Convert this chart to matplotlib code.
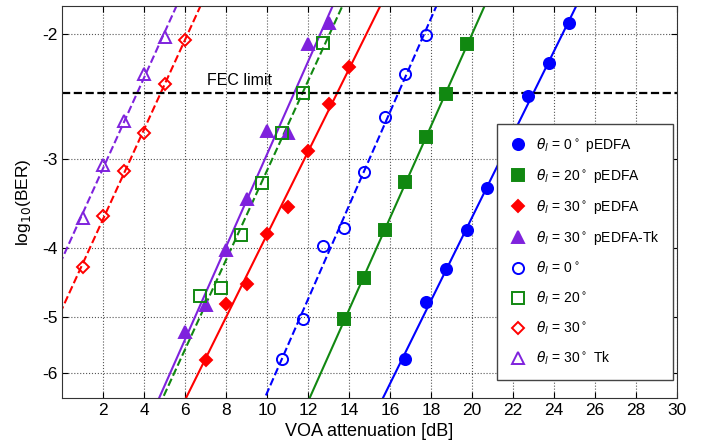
import numpy as np
import matplotlib
matplotlib.use('Agg')
import matplotlib.pyplot as plt

plt.rcParams['font.family'] = ['Liberation Sans', 'DejaVu Sans']

# data (x in dB, y = log10(BER))
x_0p = [16.75, 17.75, 18.75, 19.75, 20.75, 22.75, 23.75, 24.75]
y_0p = [-5.74, -4.77, -4.28, -3.77, -3.30, -2.45, -2.20, -1.93]

x_20p = [13.75, 14.75, 15.75, 16.75, 17.75, 18.75, 19.75]
y_20p = [-5.04, -4.41, -3.77, -3.23, -2.79, -2.43, -2.07]

x_30p = [7, 8, 9, 10, 11, 12, 13, 14]
y_30p = [-5.75, -4.79, -4.50, -3.82, -3.50, -2.92, -2.51, -2.23]

x_30tk = [6, 7, 8, 9, 10, 11, 12, 13]
y_30tk = [-5.25, -4.82, -4.03, -3.42, -2.74, -2.76, -2.07, -1.93]

x_0 = [10.75, 11.75, 12.75, 13.75, 14.75, 15.75, 16.75, 17.75]
y_0 = [-5.74, -5.03, -3.97, -3.75, -3.13, -2.62, -2.28, -2.01]

x_20 = [6.75, 7.75, 8.75, 9.75, 10.75, 11.75, 12.75]
y_20 = [-4.68, -4.55, -3.84, -3.24, -2.76, -2.42, -2.06]

x_30 = [1, 2, 3, 4, 5, 6]
y_30 = [-4.25, -3.61, -3.12, -2.76, -2.35, -2.04]

x_30t = [1, 2, 3, 4, 5]
y_30t = [-3.63, -3.06, -2.65, -2.28, -2.02]

fec = -2.42

blue = '#0000ff'
green = '#118811'
red = '#ff0000'
purple = '#7f22dd'


def fwd(v):
    v = np.asarray(v, dtype=float)
    return -np.log10(np.clip(-v, 1e-9, None))


def inv(u):
    return -10 ** (-np.asarray(u, dtype=float))


fig = plt.figure(figsize=(7.06, 4.45), dpi=100)
ax = fig.add_axes([0.088, 0.106, 0.871, 0.880])
ax.set_yscale('function', functions=(fwd, inv))

series = [
    (x_0p, y_0p, blue, 'o', True, '-', r'$\theta_l$ = 0$^\circ$ pEDFA'),
    (x_20p, y_20p, green, 's', True, '-', r'$\theta_l$ = 20$^\circ$ pEDFA'),
    (x_30p, y_30p, red, 'D', True, '-', r'$\theta_l$ = 30$^\circ$ pEDFA'),
    (x_30tk, y_30tk, purple, '^', True, '-', r'$\theta_l$ = 30$^\circ$ pEDFA-Tk'),
    (x_0, y_0, blue, 'o', False, '--', r'$\theta_l$ = 0$^\circ$'),
    (x_20, y_20, green, 's', False, '--', r'$\theta_l$ = 20$^\circ$'),
    (x_30, y_30, red, 'D', False, '--', r'$\theta_l$ = 30$^\circ$'),
    (x_30t, y_30t, purple, '^', False, '--', r'$\theta_l$ = 30$^\circ$ Tk'),
]

xl = np.linspace(-1, 31, 200)
handles = []
for xs, ys, c, m, filled, ls, lab in series:
    # straight fit line in the transformed axis
    p = np.polyfit(xs, fwd(ys), 1)
    ax.plot(xl, inv(np.polyval(p, xl)), ls=ls, color=c, lw=1.5, zorder=2)
    ms = 8 if m != 'D' else 6.5
    h, = ax.plot(xs, ys, ls='none', marker=m, ms=ms, color=c,
                 mfc=c if filled else 'none', mec=c, mew=1.4, label=lab, zorder=3)
    handles.append(h)

ax.axhline(fec, color='black', ls='--', lw=1.6, zorder=2)
ax.text(7.05, -2.33, 'FEC limit', fontsize=11.5, va='center', ha='left')

ax.set_xlim(0, 30)
ax.set_ylim(-6.5, -1.83)
ax.set_xticks(range(2, 31, 2))
ax.set_yticks([-6, -5, -4, -3, -2])
ax.set_yticklabels(['-6', '-5', '-4', '-3', '-2'])
ax.minorticks_off()
ax.tick_params(direction='in', top=True, right=True, labelsize=12.5, length=4)
ax.grid(True, ls=':', color='#555555', lw=0.8)
for s in ax.spines.values():
    s.set_color('#333333')

ax.set_xlabel('VOA attenuation [dB]', fontsize=13, labelpad=4)
ax.set_ylabel(r'log$_{10}$(BER)', fontsize=12.5, labelpad=6)

leg = ax.legend(handles=handles, loc='lower right', bbox_to_anchor=(0.993, 0.046),
                borderaxespad=0, fontsize=10, labelspacing=0.92, handlelength=1.2,
                handletextpad=0.7, borderpad=0.9, fancybox=False,
                edgecolor='#444444', framealpha=1)
leg.set_zorder(5)

fig.savefig('out.png', dpi=100)
